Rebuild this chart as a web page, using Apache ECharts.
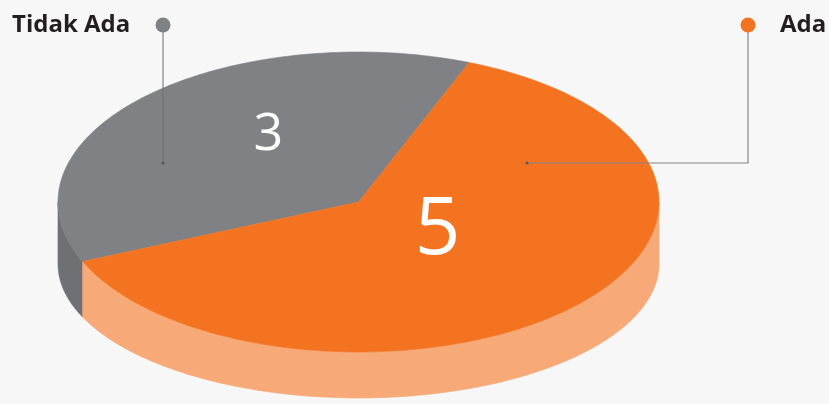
<!DOCTYPE html>
<html>
<head>
<meta charset="utf-8">
<script src="https://cdn.jsdelivr.net/npm/echarts@6/dist/echarts.min.js"></script>
<style>
  html, body { margin: 0; padding: 0; background: #f7f7f7; }
  #chart { width: 829px; height: 404px; }
</style>
</head>
<body>
<div id="chart"></div>
<script>
// Category names and their counts
const categories = ['Tidak Ada', 'Ada'];
const values = [3, 5];

// Palette: top faces and darker/lighter side walls
const topColors = ['#808184', '#F37321'];
const sideColors = ['#6F7073', '#F7A978'];

// Ellipse geometry of the tilted disc (top face and perspective bottom rim)
const CX = 358.5, CY = 202, RX = 300.5, RY = 150;
const BOTTOM_DY = 62, BOTTOM_RY = 134;
const START_ANGLE = 156.6;           // degrees, clockwise on screen
const LABEL_R = 0.45;                // radial position of value labels
const LABEL_NUDGE = [[7, -20], [-18, -18]];

const total = values.reduce((a, b) => a + b, 0);
const maxVal = Math.max.apply(null, values);

function sliceRange(i) {
  let s = START_ANGLE;
  for (let k = 0; k < i; k++) s += values[k] / total * 360;
  return [s, s + values[i] / total * 360];
}

function arcPoints(a0, a1, dy, ry) {
  const pts = [];
  const n = Math.max(2, Math.ceil(Math.abs(a1 - a0)));
  for (let k = 0; k <= n; k++) {
    const t = (a0 + (a1 - a0) * k / n) * Math.PI / 180;
    pts.push([CX + RX * Math.cos(t), CY + dy + ry * Math.sin(t)]);
  }
  return pts;
}

// Side wall: only the front half (0..180 deg) of the rim is visible
function renderSide(params, api) {
  const i = params.dataIndex;
  let [s, e] = sliceRange(i);
  const shift = Math.floor(s / 360) * 360;
  s -= shift; e -= shift;
  const children = [];
  [[0, 180], [360, 540]].forEach(([lo, hi]) => {
    const a0 = Math.max(s, lo), a1 = Math.min(e, hi);
    if (a1 > a0) {
      const top = arcPoints(a0, a1, 0, RY);
      const bottom = arcPoints(a1, a0, BOTTOM_DY, BOTTOM_RY);
      children.push({
        type: 'polygon',
        shape: { points: top.concat(bottom) },
        style: { fill: sideColors[i], stroke: sideColors[i], lineWidth: 0.6 }
      });
    }
  });
  return { type: 'group', children };
}

function renderTop(params, api) {
  const i = params.dataIndex;
  const [s, e] = sliceRange(i);
  const pts = [[CX, CY]].concat(arcPoints(s, e, 0, RY));
  const mid = (s + e) / 2 * Math.PI / 180;
  const lx = CX + RX * LABEL_R * Math.cos(mid) + LABEL_NUDGE[i][0];
  const ly = CY + RY * LABEL_R * Math.sin(mid) + LABEL_NUDGE[i][1];
  const v = api.value(0);
  return {
    type: 'group',
    children: [
      {
        type: 'polygon',
        shape: { points: pts },
        style: { fill: topColors[i], stroke: topColors[i], lineWidth: 0.6 }
      },
      {
        type: 'text',
        x: lx, y: ly,
        style: {
          text: String(v),
          fill: '#ffffff',
          font: 'normal ' + Math.round(80 * Math.pow(v / maxVal, 0.85)) + 'px "Open Sans", sans-serif',
          align: 'center',
          verticalAlign: 'middle'
        }
      }
    ]
  };
}

const chart = echarts.init(document.getElementById('chart'));
const lineColor = '#6d6e70';
const labelFont = 'bold 24px "Open Sans", sans-serif';

chart.setOption({
  backgroundColor: '#f7f7f7',
  animation: false,
  series: [
    { type: 'custom', coordinateSystem: 'none', renderItem: renderSide, data: values, z: 1 },
    { type: 'custom', coordinateSystem: 'none', renderItem: renderTop, data: values, z: 2 }
  ],
  graphic: [
    // Tidak Ada marker and leader
    { type: 'text', x: 12, y: 25, z: 10, style: { text: categories[0], font: labelFont, fill: '#231f20', verticalAlign: 'middle' } },
    { type: 'line', z: 10, shape: { x1: 163, y1: 25, x2: 163, y2: 163 }, style: { stroke: lineColor, lineWidth: 1 } },
    { type: 'circle', z: 11, shape: { cx: 163, cy: 25, r: 7.5 }, style: { fill: topColors[0] } },
    { type: 'circle', z: 11, shape: { cx: 163, cy: 163, r: 1.6 }, style: { fill: '#58595b' } },
    // Ada marker and leader
    { type: 'text', x: 780, y: 25, z: 10, style: { text: categories[1], font: labelFont, fill: '#231f20', verticalAlign: 'middle' } },
    { type: 'polyline', z: 10, shape: { points: [[748, 25], [748, 163], [527, 163]] }, style: { stroke: '#858688', lineWidth: 1.2, fill: null } },
    { type: 'circle', z: 11, shape: { cx: 748, cy: 25, r: 7.5 }, style: { fill: topColors[1] } },
    { type: 'circle', z: 11, shape: { cx: 527, cy: 163, r: 1.6 }, style: { fill: '#58595b' } }
  ]
});
</script>
</body>
</html>
